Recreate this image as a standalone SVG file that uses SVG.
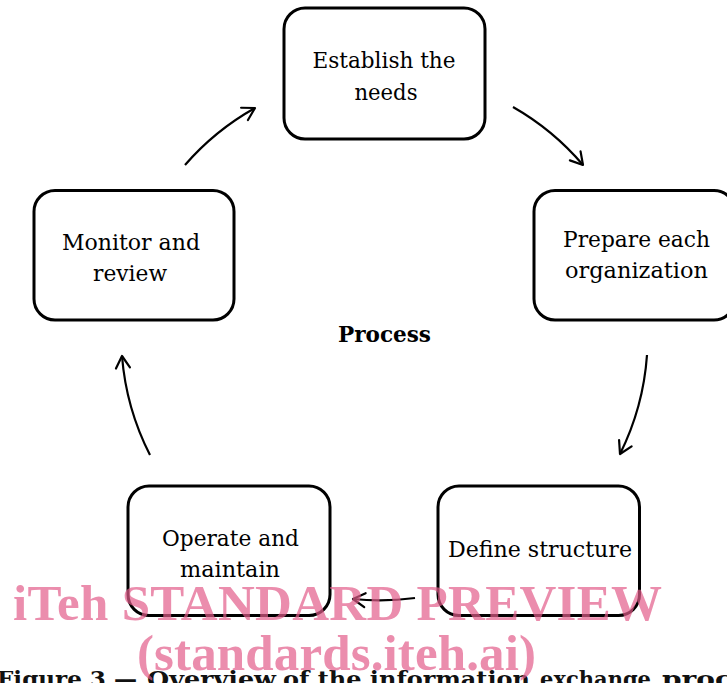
<svg xmlns="http://www.w3.org/2000/svg" width="727" height="683" viewBox="0 0 727 683">
  <style>
    .box { fill: #ffffff; stroke: #000000; stroke-width: 3; }
    .label { font-family: "DejaVu Serif", "Liberation Serif", serif; font-size: 22.5px; fill: #000000; text-anchor: middle; }
    .title { font-family: "DejaVu Serif", "Liberation Serif", serif; font-size: 21.5px; font-weight: bold; fill: #000000; text-anchor: middle; }
    .caption { font-family: "DejaVu Serif", "Liberation Serif", serif; font-size: 23px; font-weight: bold; fill: #111111; }
    .flow { fill: none; stroke: #000000; stroke-width: 2.2; marker-end: url(#head); }
    .mark { font-family: "Liberation Serif", "Times New Roman", serif; font-size: 51px; font-weight: bold; fill: #e35d8a; fill-opacity: 0.7; }
  </style>
  <defs>
    <marker id="head" markerUnits="userSpaceOnUse" markerWidth="30" markerHeight="30" refX="0" refY="0" viewBox="-15 -15 30 30" orient="auto">
      <path d="M-12,-7 L0,0 L-12,7" fill="none" stroke="#000000" stroke-width="2.2" stroke-linecap="round" stroke-linejoin="round"/>
    </marker>
  </defs>

  <rect width="727" height="683" fill="#ffffff"/>

  <!-- cycle connectors: arcs of one circle, clockwise -->
  <g id="connectors">
    <path class="flow" d="M185,165 A263,263 0 0 1 255,108"/>
    <path class="flow" d="M513,107 A263,263 0 0 1 583,165"/>
    <path class="flow" d="M647,355 A263,263 0 0 1 620,454"/>
    <path class="flow" d="M415,598 A263,263 0 0 1 353,599"/>
    <path class="flow" d="M150,455 A263,263 0 0 1 122,356"/>
  </g>

  <g id="establish">
    <rect class="box" x="284" y="8" width="201" height="131" rx="21"/>
    <text class="label" x="384" y="68" textLength="143" lengthAdjust="spacingAndGlyphs">Establish the</text>
    <text class="label" x="386" y="100" textLength="63" lengthAdjust="spacingAndGlyphs">needs</text>
  </g>

  <g id="prepare">
    <rect class="box" x="534" y="190.5" width="201" height="129.5" rx="21"/>
    <text class="label" x="636.5" y="247" textLength="147" lengthAdjust="spacingAndGlyphs">Prepare each</text>
    <text class="label" x="636.5" y="278" textLength="143" lengthAdjust="spacingAndGlyphs">organization</text>
  </g>

  <g id="define">
    <rect class="box" x="438" y="486" width="201.5" height="129.5" rx="21"/>
    <text class="label" x="540" y="557" textLength="184" lengthAdjust="spacingAndGlyphs">Define structure</text>
  </g>

  <g id="operate">
    <rect class="box" x="128" y="486" width="202" height="129.5" rx="21"/>
    <text class="label" x="230.5" y="546" textLength="137" lengthAdjust="spacingAndGlyphs">Operate and</text>
    <text class="label" x="230" y="577" textLength="100" lengthAdjust="spacingAndGlyphs">maintain</text>
  </g>

  <g id="monitor">
    <rect class="box" x="34" y="190.5" width="200" height="129.5" rx="21"/>
    <text class="label" x="131" y="250" textLength="138" lengthAdjust="spacingAndGlyphs">Monitor and</text>
    <text class="label" x="130" y="281" textLength="74" lengthAdjust="spacingAndGlyphs">review</text>
  </g>

  <g id="centre">
    <text class="title" x="384.5" y="342" textLength="93" lengthAdjust="spacingAndGlyphs">Process</text>
  </g>

  <!-- figure caption, running past the right edge -->
  <g id="caption">
    <text class="caption" x="-3" y="687" textLength="140" lengthAdjust="spacingAndGlyphs">Figure 3 —</text>
    <text class="caption" x="147" y="687" textLength="129" lengthAdjust="spacingAndGlyphs">Overview</text>
    <text class="caption" x="283" y="687" textLength="247" lengthAdjust="spacingAndGlyphs">of the information</text>
    <text class="caption" x="540" y="687" textLength="111" lengthAdjust="spacingAndGlyphs">exchange</text>
    <text class="caption" x="662" y="687" textLength="70" lengthAdjust="spacingAndGlyphs">proc</text>
  </g>

  <g id="watermark">
    <text class="mark" x="13" y="620" textLength="649">iTeh STANDARD PREVIEW</text>
    <text class="mark" x="137" y="670" textLength="399">(standards.iteh.ai)</text>
  </g>
</svg>
